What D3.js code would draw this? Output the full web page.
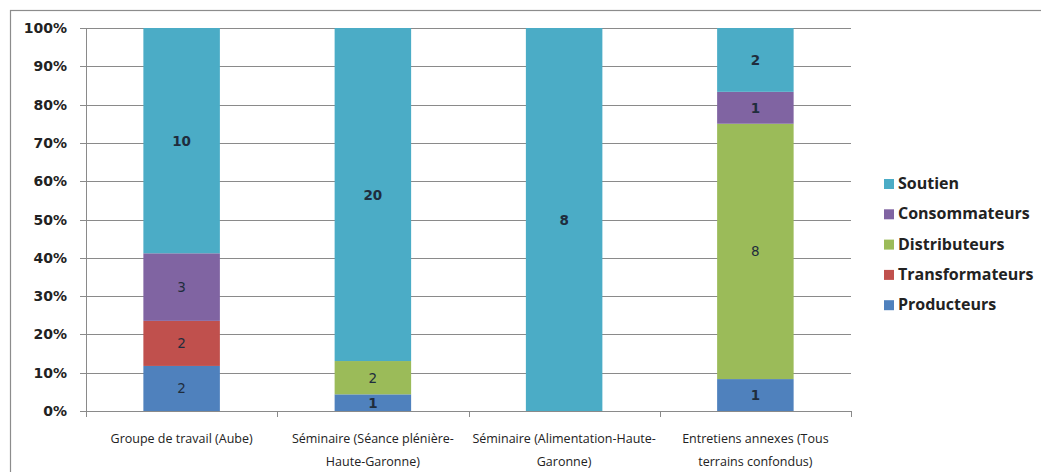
<!DOCTYPE html>
<html>
<head>
<meta charset="utf-8">
<script src="https://cdn.jsdelivr.net/npm/d3@7"></script>
<style>
  body { margin: 0; background: #fff; }
  svg { display: block; }
</style>
</head>
<body>
<svg></svg>
<script>
// données
const categories = [
  ["Groupe de travail (Aube)"],
  ["Séminaire (Séance plénière-", "Haute-Garonne)"],
  ["Séminaire (Alimentation-Haute-", "Garonne)"],
  ["Entretiens annexes (Tous", "terrains confondus)"]
];
const seriesNames = ["Producteurs", "Transformateurs", "Distributeurs", "Consommateurs", "Soutien"];
const producteurs = [2, 1, 0, 1];
const transformateurs = [2, 0, 0, 0];
const distributeurs = [0, 2, 0, 8];
const consommateurs = [3, 0, 0, 1];
const soutien = [10, 20, 8, 2];
const yTicks = [0, 0.1, 0.2, 0.3, 0.4, 0.5, 0.6, 0.7, 0.8, 0.9, 1];
const colors = ["#4F81BD", "#C0504D", "#9BBB59", "#8064A2", "#4BACC6"];

const W = 1041, H = 472;
const svg = d3.select("svg").attr("width", W).attr("height", H);

// cadre extérieur
svg.append("rect")
  .attr("x", 10.5).attr("y", 10.5)
  .attr("width", W + 10).attr("height", H + 10)
  .attr("fill", "none").attr("stroke", "#8c8c8c").attr("stroke-width", 1.2);

const mLeft = 86, mRight = 851, mTop = 28, mBottom = 411;

const x = d3.scaleBand().domain(d3.range(categories.length)).range([mLeft, mRight]).paddingInner(0.6).paddingOuter(0.3);
const y = d3.scaleLinear().domain([0, 1]).range([mBottom, mTop]);

const allSeries = [producteurs, transformateurs, distributeurs, consommateurs, soutien];
const rows = categories.map((c, i) => {
  const r = { idx: i };
  seriesNames.forEach((s, k) => r[s] = allSeries[k][i]);
  return r;
});
const totals = rows.map(r => d3.sum(seriesNames, s => r[s]));
const stacked = d3.stack().keys(seriesNames)
  .value((d, key) => d[key] / totals[d.idx])(rows);

// grille
svg.append("g").selectAll("line").data(yTicks).join("line")
  .attr("x1", mLeft - 6).attr("x2", mRight)
  .attr("y1", d => Math.round(y(d)) + 0.5).attr("y2", d => Math.round(y(d)) + 0.5)
  .attr("stroke", "#8a8a8a").attr("stroke-width", 1);

// axe y
svg.append("line")
  .attr("x1", mLeft + 0.5).attr("x2", mLeft + 0.5)
  .attr("y1", mTop).attr("y2", mBottom + 1)
  .attr("stroke", "#8a8a8a");

svg.append("g").selectAll("text").data(yTicks).join("text")
  .attr("x", 67).attr("y", d => y(d) + 5)
  .attr("text-anchor", "end")
  .style("font-family", "'DejaVu Sans', Verdana, sans-serif")
  .style("font-weight", "bold")
  .style("font-size", "14px")
  .style("fill", "#222")
  .text(d => Math.round(d * 100) + "%");

// barres
const layers = svg.append("g").selectAll("g").data(stacked).join("g")
  .attr("fill", (d, i) => colors[i]);
layers.selectAll("rect").data(d => d).join("rect")
  .attr("x", (d, i) => x(i))
  .attr("width", x.bandwidth())
  .attr("y", d => y(d[1]))
  .attr("height", d => y(d[0]) - y(d[1]));

// étiquettes de valeurs
stacked.forEach((layer, k) => {
  svg.append("g").selectAll("text")
    .data(layer.filter(d => d.data[layer.key] > 0))
    .join("text")
    .attr("x", d => x(d.data.idx) + x.bandwidth() / 2)
    .attr("y", d => (y(d[0]) + y(d[1])) / 2 + 5)
    .attr("text-anchor", "middle")
    .style("font-family", "'DejaVu Sans', sans-serif")
    .style("font-size", "13.5px")
    .style("font-weight", d => (k === 4 || d.data[layer.key] === 1) ? "bold" : "normal")
    .style("fill", "#1f2d3d")
    .text(d => d.data[layer.key]);
});

// axe x
svg.append("line")
  .attr("x1", mLeft).attr("x2", mRight)
  .attr("y1", mBottom + 0.5).attr("y2", mBottom + 0.5)
  .attr("stroke", "#8a8a8a");
svg.append("g").selectAll("line").data(d3.range(categories.length + 1)).join("line")
  .attr("x1", i => Math.round(mLeft + i * (mRight - mLeft) / categories.length) + 0.5)
  .attr("x2", i => Math.round(mLeft + i * (mRight - mLeft) / categories.length) + 0.5)
  .attr("y1", mBottom).attr("y2", mBottom + 6)
  .attr("stroke", "#8a8a8a");

const xl = svg.append("g").selectAll("text").data(categories).join("text")
  .attr("x", (d, i) => x(i) + x.bandwidth() / 2)
  .attr("y", 443)
  .attr("text-anchor", "middle")
  .style("font-family", "'Open Sans', sans-serif")
  .style("font-size", "12.5px")
  .style("fill", "#222");
xl.selectAll("tspan").data(d => d).join("tspan")
  .attr("x", function() { return d3.select(this.parentNode).attr("x"); })
  .attr("dy", (d, i) => i === 0 ? 0 : 23)
  .text(d => d);

// légende
const legendOrder = seriesNames.map((s, i) => i).reverse();
const lg = svg.append("g").selectAll("g").data(legendOrder).join("g")
  .attr("transform", (d, i) => `translate(884, ${189 + i * 30.3})`);
lg.append("rect")
  .attr("x", 0).attr("y", -10).attr("width", 10).attr("height", 10)
  .attr("fill", d => colors[d]);
lg.append("text")
  .attr("x", 14).attr("y", 0)
  .style("font-family", "'Open Sans', sans-serif")
  .style("font-weight", "bold")
  .style("font-size", "16px")
  .style("fill", "#222")
  .text(d => seriesNames[d]);
</script>
</body>
</html>
